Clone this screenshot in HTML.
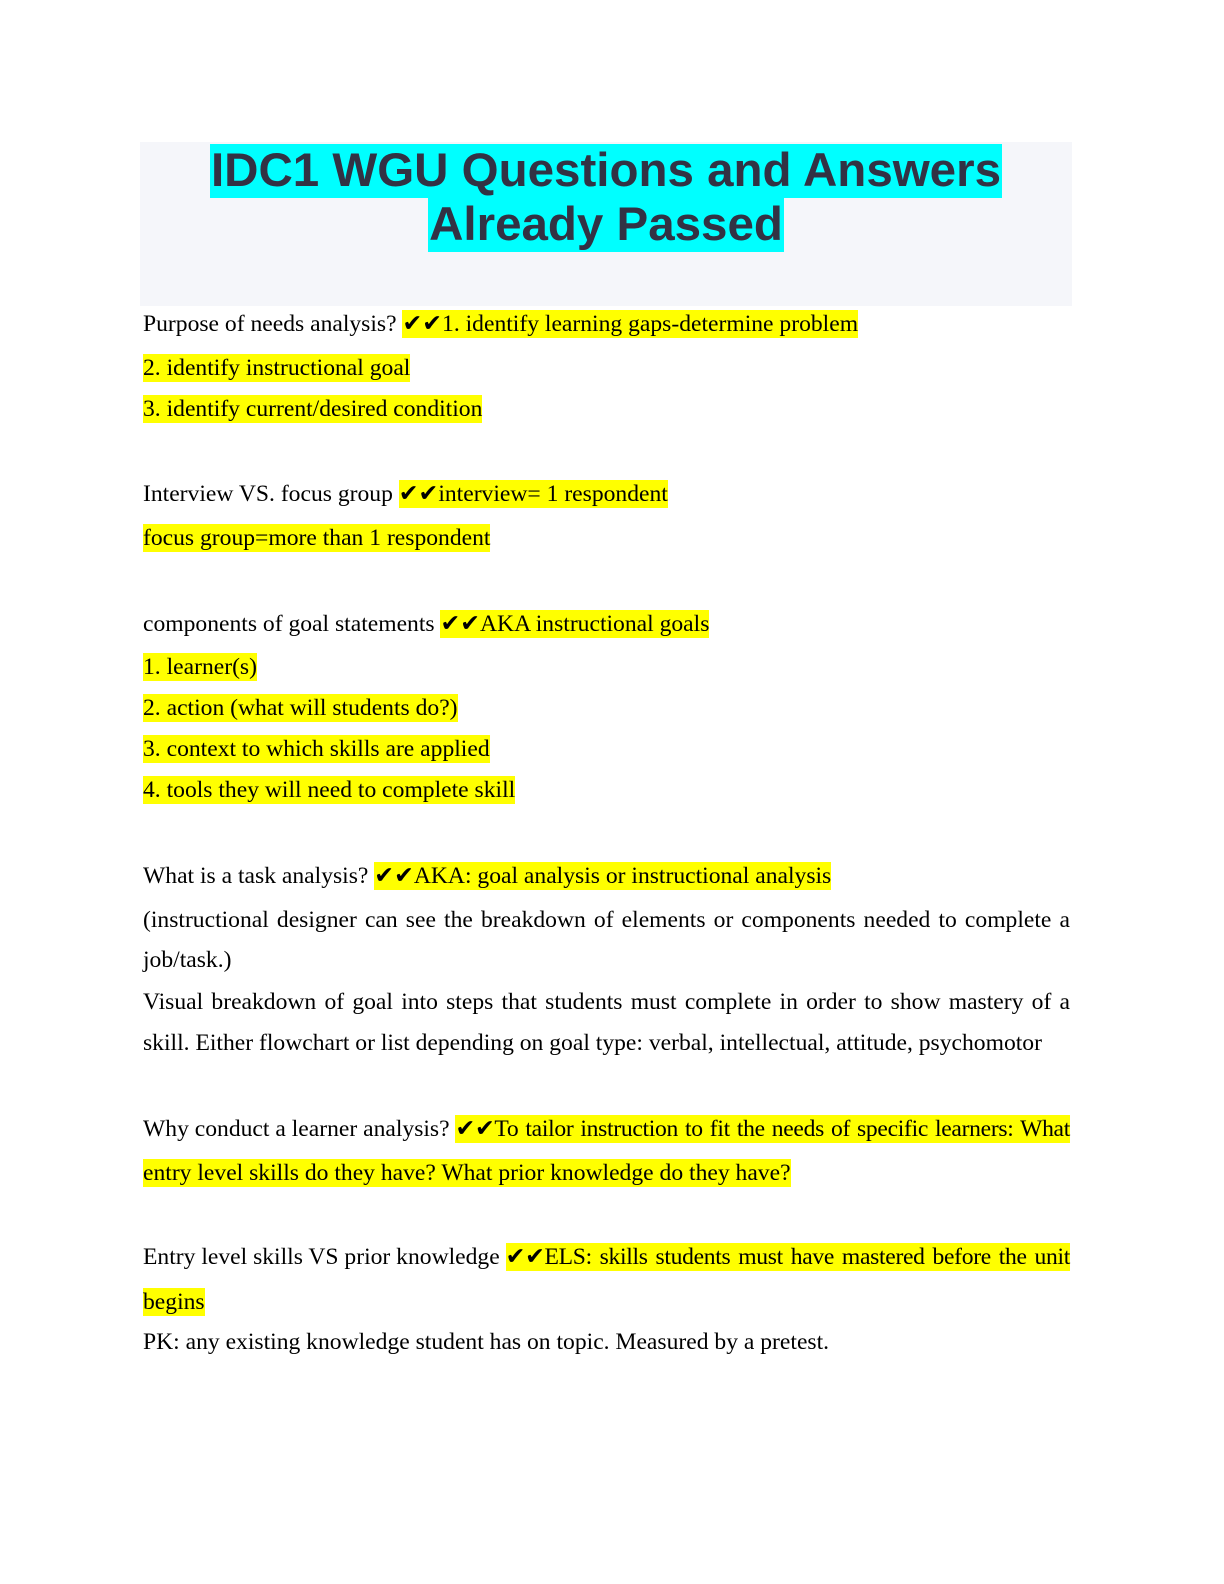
<!DOCTYPE html>
<html><head><meta charset="utf-8"><style>
body{margin:0;background:#fff;width:1224px;height:1584px;position:relative;overflow:hidden}
.box{position:absolute;left:140px;top:142px;width:932px;height:164px;background:#f5f6fa}
.t{position:absolute;left:140px;width:932px;text-align:center;font-family:"Liberation Sans",sans-serif;font-weight:bold;font-size:47.5px;color:#323244;line-height:54px}
.t span{background:#00ffff;display:inline-block;padding:0 1px}
.l{position:absolute;left:143px;font-family:"Liberation Serif",serif;font-size:23.6px;line-height:28px;height:28px;color:#000;white-space:nowrap}
.j{width:927px;text-align:justify;text-align-last:justify;white-space:normal}
.h{background:#ffff00;display:inline-block;line-height:28px}
.f{width:927px;display:flex}
.f .h{flex:1;min-width:0;text-align:justify;text-align-last:justify;letter-spacing:-0.3px}
</style></head><body>
<div class="box"></div>
<div class="t" style="top:144px"><span>IDC1 WGU Questions and Answers</span></div>
<div class="t" style="top:198px"><span>Already Passed</span></div>

<div class="l" style="top:310px">Purpose of needs analysis? <span class="h">✔✔1. identify learning gaps-determine problem</span></div>
<div class="l" style="top:354px"><span class="h">2. identify instructional goal</span></div>
<div class="l" style="top:395px"><span class="h">3. identify current/desired condition</span></div>

<div class="l" style="top:480px">Interview VS. focus group <span class="h">✔✔interview= 1 respondent</span></div>
<div class="l" style="top:524px"><span class="h">focus group=more than 1 respondent</span></div>

<div class="l" style="top:610px">components of goal statements <span class="h">✔✔AKA instructional goals</span></div>
<div class="l" style="top:653px"><span class="h">1. learner(s)</span></div>
<div class="l" style="top:694px"><span class="h">2. action (what will students do?)</span></div>
<div class="l" style="top:735px"><span class="h">3. context to which skills are applied</span></div>
<div class="l" style="top:776px"><span class="h">4. tools they will need to complete skill</span></div>

<div class="l" style="top:862px">What is a task analysis? <span class="h">✔✔AKA: goal analysis or instructional analysis</span></div>
<div class="l j" style="top:906px">(instructional designer can see the breakdown of elements or components needed to complete a</div>
<div class="l" style="top:946px">job/task.)</div>
<div class="l j" style="top:988px">Visual breakdown of goal into steps that students must complete in order to show mastery of a</div>
<div class="l" style="top:1029px">skill. Either flowchart or list depending on goal type: verbal, intellectual, attitude, psychomotor</div>

<div class="l f" style="top:1115px"><span>Why conduct a learner analysis?&nbsp;</span><span class="h">✔✔To tailor instruction to fit the needs of specific learners: What</span></div>
<div class="l" style="top:1159px"><span class="h">entry level skills do they have? What prior knowledge do they have?</span></div>

<div class="l f" style="top:1243px"><span>Entry level skills VS prior knowledge&nbsp;</span><span class="h">✔✔ELS: skills students must have mastered before the unit</span></div>
<div class="l" style="top:1288px"><span class="h">begins</span></div>
<div class="l" style="top:1328px">PK: any existing knowledge student has on topic. Measured by a pretest.</div>
</body></html>
